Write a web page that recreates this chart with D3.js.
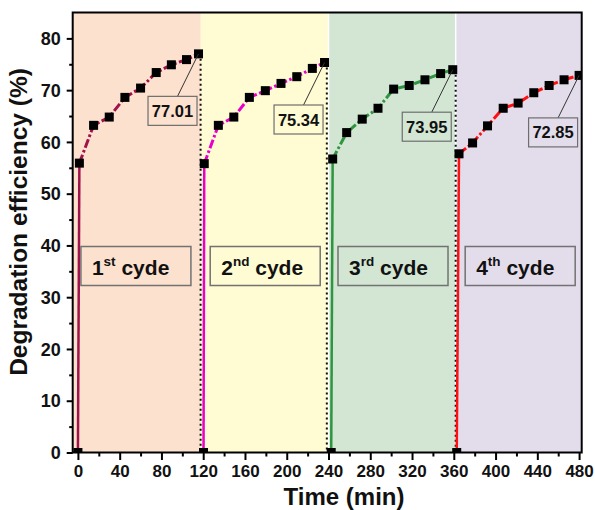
<!DOCTYPE html>
<html><head><meta charset="utf-8">
<script src="https://cdn.jsdelivr.net/npm/d3@7"></script>
<style>body{margin:0;background:#fff}svg{display:block;font-family:"Liberation Sans",Arial,sans-serif}</style>
</head><body><svg id="c" width="595" height="510"></svg>
<script>
// ---- data ----
const cycleNumbers = ["1", "2", "3", "4"];
const cycleSuffixes = ["st", "nd", "rd", "th"];
const cycleBounds = [-5, 117.6, 240, 361.8, 482.5];
const cycleDividers = [117.5, 238.4, 361.8];
const time1 = [0, 1.4, 15, 30, 45, 60, 75, 89.5, 104, 115.5];
const eff1 = [0, 55.9, 63.2, 64.8, 68.6, 70.4, 73.4, 74.9, 75.9, 77.01];
const time2 = [120.3, 121, 134.5, 149.3, 164.2, 179.5, 194.5, 209.6, 224.5, 236.2];
const eff2 = [0, 55.8, 63.2, 64.8, 68.6, 69.9, 71.3, 72.6, 74.2, 75.34];
const time3 = [242.6, 244, 257.4, 272.3, 287.4, 302.4, 317.3, 332.4, 347.4, 359];
const eff3 = [0, 56.7, 61.8, 64.4, 66.5, 70.2, 70.9, 72.0, 73.2, 73.95];
const time4 = [362.8, 365, 378, 392.3, 407.3, 421.6, 436.6, 451.3, 465.6, 480];
const eff4 = [0, 57.7, 59.8, 63.1, 66.5, 67.5, 69.5, 70.9, 72.0, 72.85];
const finalLabels = ["77.01", "75.34", "73.95", "72.85"];
const xTicks = [0, 40, 80, 120, 160, 200, 240, 280, 320, 360, 400, 440, 480];
const xMinorTicks = [20, 60, 100, 140, 180, 220, 260, 300, 340, 380, 420, 460];
const yTicks = [0, 10, 20, 30, 40, 50, 60, 70, 80];
const yMinorTicks = [5, 15, 25, 35, 45, 55, 65, 75];

// ---- styles ----
const bgColors = ["#FCE1CE", "#FFFBD3", "#D2E6D3", "#E3DDEB"];
const lineColors = ["#A1124B", "#EA00C9", "#2E963E", "#FF1111"];

const W = 595, H = 510;
const x = d3.scaleLinear().domain([-5, 482.5]).range([72.7, 581.7]);
const y = d3.scaleLinear().domain([0, 85]).range([452.5, 12.5]);
const svg = d3.select("#c");
svg.append("rect").attr("width", W).attr("height", H).attr("fill", "#fff");

svg.append("defs").append("clipPath").attr("id", "clip")
  .append("rect").attr("x", x(-5)).attr("y", y(85)).attr("width", x(482.5) - x(-5)).attr("height", y(0) - y(85));

// backgrounds
bgColors.forEach((c, i) => {
  svg.append("rect").attr("x", x(cycleBounds[i])).attr("y", y(85))
    .attr("width", x(cycleBounds[i + 1]) - x(cycleBounds[i])).attr("height", y(0) - y(85)).attr("fill", c);
});
[2, 3].forEach(i => {
  svg.append("line").attr("x1", x(cycleBounds[i])).attr("x2", x(cycleBounds[i]))
    .attr("y1", y(85)).attr("y2", y(0)).attr("stroke", "#fff").attr("stroke-width", 1.5);
});

const series = [
  {t: time1, v: eff1}, {t: time2, v: eff2}, {t: time3, v: eff3}, {t: time4, v: eff4}
];

// dotted dividers
cycleDividers.forEach((d, i) => {
  const s = series[i];
  svg.append("line").attr("x1", x(d)).attr("x2", x(d))
    .attr("y1", y(s.v[s.v.length - 1])).attr("y2", y(0))
    .attr("stroke", "#111").attr("stroke-width", 2).attr("stroke-dasharray", "2,3");
});

const plot = svg.append("g").attr("clip-path", "url(#clip)");
const line = d3.line().x(d => x(d[0])).y(d => y(d[1]));
series.forEach((s, i) => {
  const pts = s.t.map((t, j) => [t, s.v[j]]);
  plot.append("path").attr("d", line(pts.slice(0, 2))).attr("fill", "none")
    .attr("stroke", lineColors[i]).attr("stroke-width", 2.5);
  plot.append("path").attr("d", line(pts.slice(1))).attr("fill", "none")
    .attr("stroke", lineColors[i]).attr("stroke-width", 3).attr("stroke-dasharray", "9,2.5,2.5,2.5");
});
series.forEach((s, i) => {
  plot.selectAll(null).data(s.t.map((t, j) => [t, s.v[j]])).enter().append("rect")
    .attr("x", d => x(d[0]) - 4.5).attr("y", d => y(d[1]) - 4.5)
    .attr("width", 9).attr("height", 9).attr("fill", "#000");
});

// value annotations
series.forEach((s, i) => {
  const n = s.t.length - 1;
  const px = x(s.t[n]), py = y(s.v[n]);
  const cx = px - 26, cy = py + 57, bw = 49, bh = 29;
  svg.append("line").attr("x1", cx + 5).attr("y1", cy - bh / 2).attr("x2", px).attr("y2", py)
    .attr("stroke", "#333").attr("stroke-width", 1);
  svg.append("rect").attr("x", cx - bw / 2).attr("y", cy - bh / 2).attr("width", bw).attr("height", bh)
    .attr("fill", bgColors[i]).attr("stroke", "#6e6e6e").attr("stroke-width", 1.2);
  svg.append("text").attr("x", cx).attr("y", cy + 6).attr("text-anchor", "middle")
    .attr("font-size", 16.5).attr("font-weight", "bold").attr("fill", "#111").text(finalLabels[i]);
});

// cycle boxes
cycleNumbers.forEach((num, i) => {
  const bx = x(cycleBounds[i] < 0 ? 0 : cycleBounds[i]) + (i === 0 ? 3 : 9.5);
  const by = 246.5, bw = 110, bh = 39;
  svg.append("rect").attr("x", bx).attr("y", by).attr("width", bw).attr("height", bh)
    .attr("fill", bgColors[i]).attr("stroke", "#727272").attr("stroke-width", 1.5);
  const t = svg.append("text").attr("x", bx + 11).attr("y", by + 28)
    .attr("font-size", 21).attr("font-weight", "bold").attr("fill", "#111");
  t.append("tspan").text(num);
  t.append("tspan").attr("font-size", 13.5).attr("dy", -8.5).text(cycleSuffixes[i]);
  t.append("tspan").attr("dy", 8.5).text(" cyde");
});

// axes
const xAxis = svg.append("g").attr("transform", `translate(0,${y(0)})`)
  .call(d3.axisBottom(x).tickValues(xTicks).tickSize(7.5).tickPadding(5).tickFormat(d3.format("d")));
const xMinor = svg.append("g").attr("transform", `translate(0,${y(0)})`)
  .call(d3.axisBottom(x).tickValues(xMinorTicks).tickSize(4).tickFormat(""));
const yAxis = svg.append("g").attr("transform", `translate(${x(-5)},0)`)
  .call(d3.axisLeft(y).tickValues(yTicks).tickSize(6).tickPadding(6).tickFormat(d3.format("d")));
const yMinor = svg.append("g").attr("transform", `translate(${x(-5)},0)`)
  .call(d3.axisLeft(y).tickValues(yMinorTicks).tickSize(3.5).tickFormat(""));
[xAxis, xMinor, yAxis, yMinor].forEach(g => {
  g.select(".domain").remove();
  g.selectAll(".tick line").attr("stroke", "#000").attr("stroke-width", 2);
  g.selectAll("text").attr("font-family", '"Liberation Sans",Arial,sans-serif')
    .attr("font-weight", "bold").attr("fill", "#111");
});
xAxis.selectAll("text").attr("font-size", 17);
yAxis.selectAll("text").attr("font-size", 18).attr("dy", "0.34em");

// frame
svg.append("rect").attr("x", x(-5)).attr("y", y(85)).attr("width", x(482.5) - x(-5)).attr("height", y(0) - y(85))
  .attr("fill", "none").attr("stroke", "#000").attr("stroke-width", 2);

// labels
svg.append("text").attr("x", 344).attr("y", 505).attr("text-anchor", "middle")
  .attr("font-size", 24).attr("font-weight", "bold").attr("fill", "#111").text("Time (min)");
svg.append("text").attr("transform", "translate(27,222) rotate(-90)").attr("text-anchor", "middle")
  .attr("font-size", 24.5).attr("font-weight", "bold").attr("fill", "#111").text("Degradation efficiency (%)");
</script></body></html>
